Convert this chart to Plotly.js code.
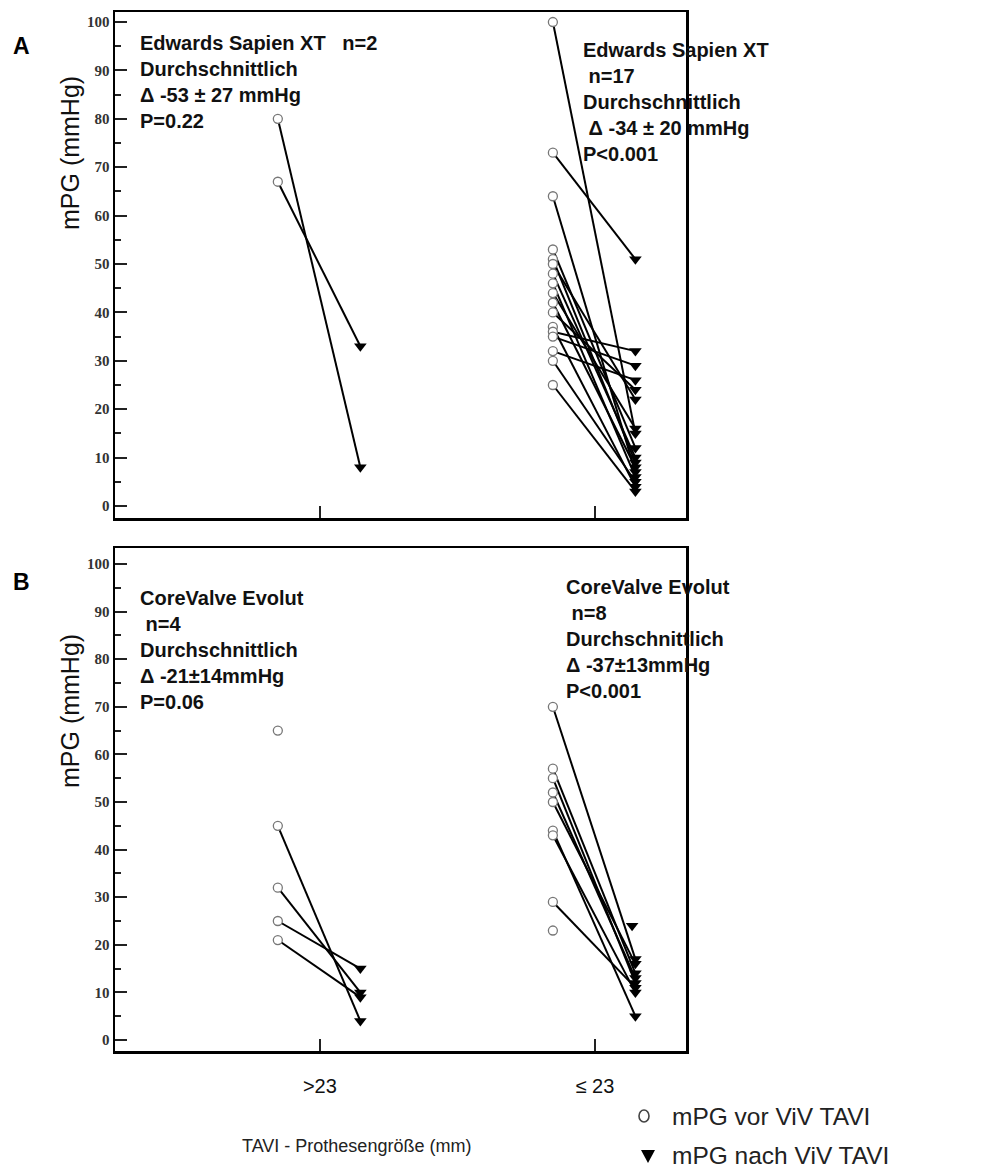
<!DOCTYPE html>
<html>
<head>
<meta charset="utf-8">
<script src="https://cdn.plot.ly/plotly-3.0.1.min.js"></script>
<style>html,body{margin:0;padding:0;background:#fff;}#chart{width:993px;height:1173px;}</style>
</head>
<body>
<div id="chart"></div>
<script>
// ---- Data ----
const categories = [">23", "\u2264 23"];
const yTicks = [0, 10, 20, 30, 40, 50, 60, 70, 80, 90, 100];

// Panel A: Edwards Sapien XT
const aLeftPre  = [80, 67];
const aLeftPost = [8, 33];
const aRightPre  = [100, 73, 64, 53, 51, 50, 48, 46, 44, 42, 40, 37, 36, 35, 32, 30, 25];
const aRightPost = [15, 51, 7, 12, 9, 22, 10, 6, 16, 8, 24, 4, 32, 29, 26, 5, 3];

// Panel B: CoreValve Evolut
const bLeftPre  = [45, 32, 25, 21];
const bLeftPost = [4, 10, 15, 9];
const bLeftPreUnpaired = [65];
const bRightPre  = [70, 57, 55, 52, 50, 44, 43, 29];
const bRightPost = [17, 14, 12, 13, 16, 5, 10, 11];
const bRightPreUnpaired = [23];
const bRightPostUnpaired = [24];

// ---- helpers ----
const W = 993, H = 1173;
const px = x => x / W;
const py = y => 1 - y / H;
const PRE_OFF = -0.153, POST_OFF = 0.147;

function pairLines(ci, pre, post, xa, ya) {
  const xs = [], ys = [];
  pre.forEach((v, i) => {
    xs.push(ci + PRE_OFF, ci + POST_OFF, null);
    ys.push(v, post[i], null);
  });
  return {x: xs, y: ys, xaxis: xa, yaxis: ya, mode: 'lines', type: 'scatter',
    line: {color: '#000', width: 2}, hoverinfo: 'skip', showlegend: false};
}
function preMarkers(ci, vals, xa, ya) {
  return {x: vals.map(() => ci + PRE_OFF), y: vals, xaxis: xa, yaxis: ya, mode: 'markers', type: 'scatter',
    marker: {symbol: 'circle', size: 9, color: '#fff', line: {color: '#777', width: 1.3}}, showlegend: false};
}
function postMarkers(ci, vals, xa, ya, dx) {
  return {x: vals.map(() => ci + POST_OFF + (dx || 0)), y: vals, xaxis: xa, yaxis: ya, mode: 'markers', type: 'scatter',
    marker: {symbol: 'triangle-down', size: 11, color: '#000', line: {width: 0}}, showlegend: false};
}

const traces = [
  pairLines(0, aLeftPre, aLeftPost, 'x', 'y'),
  pairLines(1, aRightPre, aRightPost, 'x', 'y'),
  preMarkers(0, aLeftPre, 'x', 'y'),
  preMarkers(1, aRightPre, 'x', 'y'),
  postMarkers(0, aLeftPost, 'x', 'y'),
  postMarkers(1, aRightPost, 'x', 'y'),

  pairLines(0, bLeftPre, bLeftPost, 'x2', 'y2'),
  pairLines(1, bRightPre, bRightPost, 'x2', 'y2'),
  preMarkers(0, bLeftPre.concat(bLeftPreUnpaired), 'x2', 'y2'),
  preMarkers(1, bRightPre.concat(bRightPreUnpaired), 'x2', 'y2'),
  postMarkers(0, bLeftPost, 'x2', 'y2'),
  postMarkers(1, bRightPost, 'x2', 'y2'),
  postMarkers(1, bRightPostUnpaired, 'x2', 'y2', -0.012)
];

const xRange = [-0.745, 1.331];
const xDomain = [px(115), px(686)];

function yAxis(domain, range) {
  return {
    domain: domain, range: range, showgrid: false, zeroline: false,
    showline: true, mirror: true, linecolor: '#000', linewidth: 2.5,
    ticks: 'inside', ticklen: 12, tickwidth: 2, tickcolor: '#222',
    tickvals: yTicks, ticktext: yTicks.map(String),
    tickfont: {family: 'Liberation Serif, Times New Roman, serif', size: 15, color: '#333', weight: 'bold'},
    minor: {tickvals: [5, 15, 25, 35, 45, 55, 65, 75, 85, 95], ticks: 'inside', ticklen: 6, tickwidth: 2, tickcolor: '#222'},
    fixedrange: true
  };
}
function xAxis(anchor, showLabels) {
  return {
    domain: xDomain, range: xRange, anchor: anchor, showgrid: false, zeroline: false,
    showline: true, mirror: true, linecolor: '#000', linewidth: 2.5,
    ticks: 'inside', ticklen: 12, tickwidth: 1.5, tickcolor: '#222',
    tickvals: [0, 1], ticktext: categories, showticklabels: showLabels,
    tickfont: {family: 'Liberation Sans, Arial, sans-serif', size: 20, color: '#111'},
    ticklabelstandoff: 15,
    fixedrange: true
  };
}

const SANS = 'Liberation Sans, Arial, sans-serif';
const boldFont = {family: SANS, size: 20, color: '#111'};
function block(x, yc, lines) {
  return {xref: 'paper', yref: 'paper', x: px(x), y: py(yc), xanchor: 'left', yanchor: 'middle',
    align: 'left', showarrow: false, font: boldFont, text: lines.map(s => '<b>' + s + '</b>').join('<br>')};
}
function label(x, y, text, font, extra) {
  return Object.assign({xref: 'paper', yref: 'paper', x: px(x), y: py(y), xanchor: 'center', yanchor: 'middle',
    showarrow: false, text: text, font: font}, extra || {});
}
const NB = '\u00a0';
const annotations = [
  block(138, 82, ['Edwards Sapien XT' + NB + NB + NB + 'n=2', 'Durchschnittlich', '\u0394 -53 \u00b1 27 mmHg', 'P=0.22']),
  block(581, 102, ['Edwards Sapien XT', NB + 'n=17', 'Durchschnittlich', NB + '\u0394 -34 \u00b1 20 mmHg', 'P<0.001']),
  block(138, 649.5, ['CoreValve Evolut', NB + 'n=4', 'Durchschnittlich', '\u0394 -21\u00b114mmHg', 'P=0.06']),
  block(564, 639, ['CoreValve Evolut', NB + 'n=8', 'Durchschnittlich', '\u0394 -37\u00b113mmHg', 'P<0.001']),
  label(21, 46, '<b>A</b>', {family: SANS, size: 23, color: '#000'}),
  label(21, 582, '<b>B</b>', {family: SANS, size: 23, color: '#000'}),
  label(70, 153, 'mPG (mmHg)', {family: SANS, size: 25, color: '#111'}, {textangle: -90}),
  label(70, 711, 'mPG (mmHg)', {family: SANS, size: 25, color: '#111'}, {textangle: -90}),
  label(356, 1146, 'TAVI - Prothesengr\u00f6\u00dfe (mm)', {family: SANS, size: 18, color: '#222'}),
  label(670, 1116, 'mPG vor ViV TAVI', {family: SANS, size: 24.5, color: '#222'}, {xanchor: 'left'}),
  label(670, 1155, 'mPG nach ViV TAVI', {family: SANS, size: 24.5, color: '#222'}, {xanchor: 'left'})
];

const shapes = [
  {type: 'circle', xref: 'paper', yref: 'paper', x0: px(639), x1: px(649), y0: py(1110), y1: py(1122),
   line: {color: '#444', width: 1.6}, fillcolor: 'rgba(0,0,0,0)'},
  {type: 'path', xref: 'paper', yref: 'paper',
   path: 'M ' + px(641) + ',' + py(1150) + ' L ' + px(655) + ',' + py(1150) + ' L ' + px(648) + ',' + py(1163) + ' Z',
   fillcolor: '#000', line: {width: 0}}
];

const layout = {
  width: W, height: H,
  margin: {l: 0, r: 0, t: 0, b: 0},
  paper_bgcolor: '#fff', plot_bgcolor: '#fff',
  showlegend: false,
  xaxis: xAxis('y', false),
  yaxis: yAxis([py(518), py(12)], [-2.48, 102.07]),
  xaxis2: xAxis('y2', true),
  yaxis2: yAxis([py(1051), py(548)], [-2.31, 103.36]),
  annotations: annotations,
  shapes: shapes
};

Plotly.newPlot('chart', traces, layout, {displayModeBar: false, staticPlot: true});
</script>
</body>
</html>
